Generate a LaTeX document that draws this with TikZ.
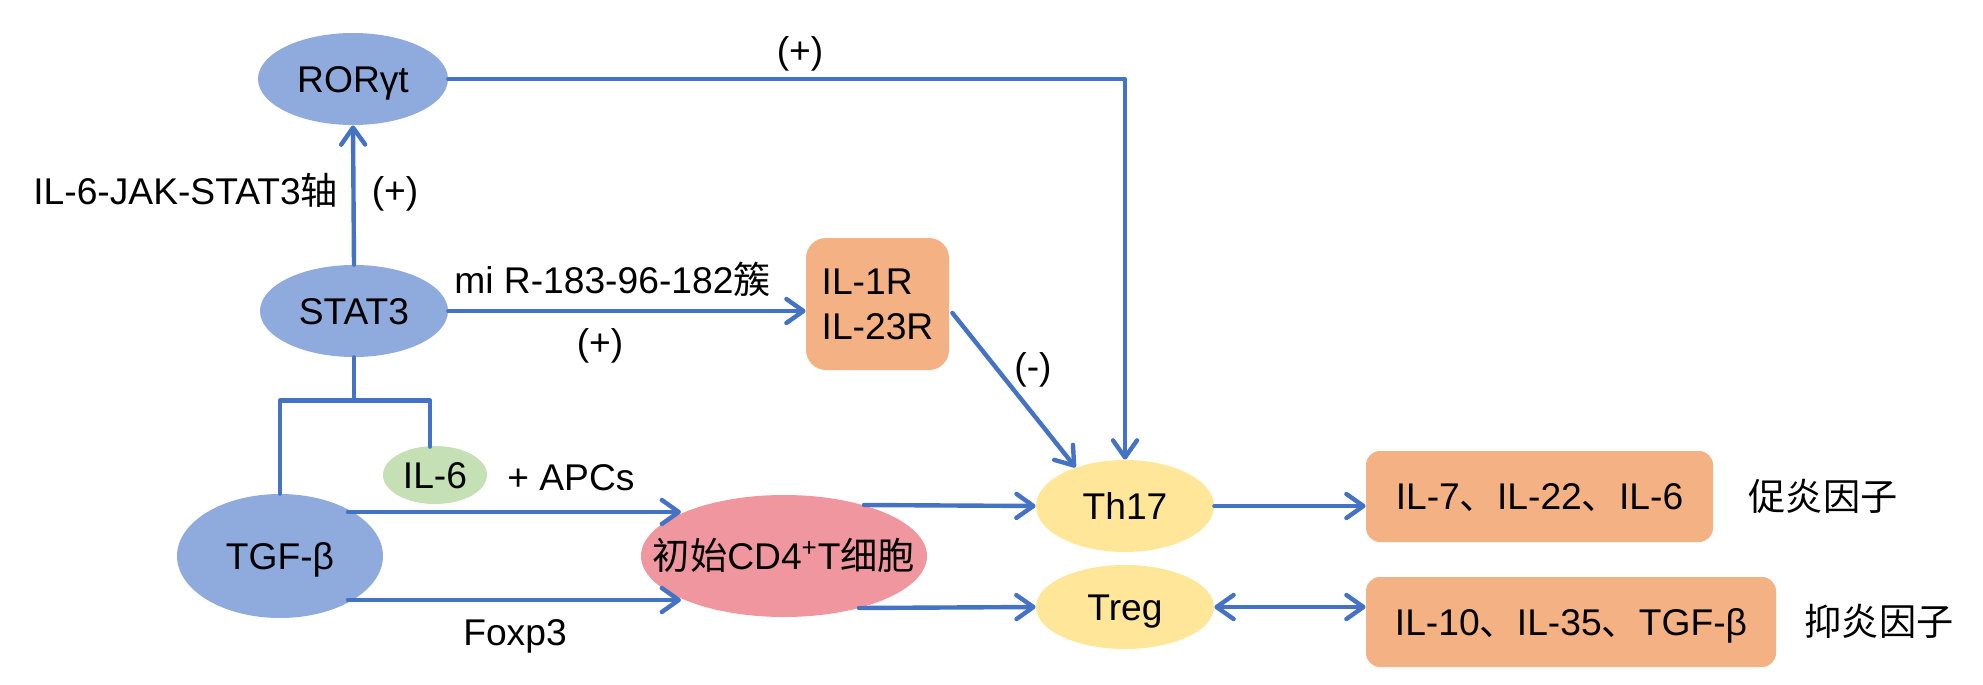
\documentclass[tikz,border=0pt]{standalone}
\usepackage{fontspec}
\setmainfont{Liberation Sans}
\newfontfamily\cjk{Noto Sans CJK SC}
\usetikzlibrary{shapes.geometric,arrows.meta,calc}
\definecolor{lineblue}{RGB}{68,114,196}
\definecolor{ellblue}{RGB}{143,170,220}
\definecolor{ellgreen}{RGB}{197,224,180}
\definecolor{ellpink}{RGB}{240,150,158}
\definecolor{ellyellow}{RGB}{255,230,153}
\definecolor{boxorange}{RGB}{244,177,131}
\begin{document}
\begin{tikzpicture}[x=0.5pt,y=-0.5pt,
  font=\fontsize{18.6}{22.5}\selectfont,
  >={Straight Barb[length=8.5pt,width=12pt,round]},
  conn/.style={draw=lineblue,line width=2.2pt,line cap=round,line join=round},
  lbl/.style={inner sep=0pt,text height=13.3pt,text depth=0pt},
  ell/.style={ellipse,inner sep=0pt,text height=13.3pt,text depth=0pt},
  bell/.style={ell,fill=ellblue},
  gell/.style={ell,fill=ellgreen},
  pell/.style={ell,fill=ellpink},
  yell/.style={ell,fill=ellyellow},
  obox/.style={rectangle,fill=boxorange,inner sep=0pt},
]
\useasboundingbox (0,0) rectangle (1983,685);

% nodes
\node[bell,minimum width=95pt,minimum height=46pt] (ror) at (353,79) {RORγt};
\node[bell,minimum width=94pt,minimum height=46pt] (stat) at (354,311) {STAT3};
\node[bell,minimum width=103pt,minimum height=62pt] (tgf) at (280,556) {TGF-β};
\node[gell,minimum width=52pt,minimum height=29pt,inner xsep=-5pt] (il6) at (435,475) {IL-6};
\node[pell,minimum width=143pt,minimum height=61pt,inner xsep=-16pt] (cd4) at (784,556) {{\cjk 初始}CD4\textsuperscript{+}T{\cjk 细胞}};
\node[yell,minimum width=89pt,minimum height=46pt,inner xsep=-5pt] (th17) at (1125,506) {Th17};
\node[yell,minimum width=89pt,minimum height=42pt,inner xsep=-5pt] (treg) at (1125,607) {Treg};
\node[obox,minimum width=71.5pt,minimum height=66pt,rounded corners=10pt,align=left] (il1r) at (877.5,304) {IL-1R\\IL-23R};
\node[obox,text height=13.3pt,text depth=0pt,minimum width=173.5pt,minimum height=45.5pt,rounded corners=7pt] (o1) at (1539.5,496.5) {IL-7{\cjk 、}IL-22{\cjk 、}IL-6};
\node[obox,text height=13.3pt,text depth=0pt,minimum width=205pt,minimum height=45pt,rounded corners=7pt] (o2) at (1571,622) {IL-10{\cjk 、}IL-35{\cjk 、}TGF-β};

% labels
\node[lbl,anchor=west] (t1) at (33,191) {IL-6-JAK-STAT3{\cjk 轴}};
\node[lbl] (t2) at (395,190) {(+)};
\node[lbl,anchor=west] (t3) at (454,280) {mi R-183-96-182{\cjk 簇}};
\node[lbl] (t4) at (600,342) {(+)};
\node[lbl] (t5) at (800,50) {(+)};
\node[lbl] (t6) at (1033,366) {(-)};
\node[lbl,anchor=west] (t7) at (507,477) {+ APCs};
\node[lbl] (t8) at (515,632) {Foxp3};
\node[lbl] (t9) at (1823,497) {{\cjk 促炎因子}};
\node[lbl] (t10) at (1879,622) {{\cjk 抑炎因子}};

% connectors
\draw[conn,->] (stat.north) -- (ror.south);
\draw[conn,->] (ror.east) -| (th17.north);
\draw[conn,->] (stat.east) -- (stat.east -| il1r.west);
\draw[conn,->] ($(il1r.east)+(3,9)$) -- (th17.142);
\coordinate (br) at ($(stat.south)+(0,43)$);
\coordinate (il6in) at ($(il6.north)+(-5,1)$);
\draw[conn] (stat.south) -- (br);
\draw[conn] (tgf.north) |- (br -| il6in) -- (il6in);
\draw[conn,->] ($(tgf.center)+(68,-44)$) -- ($(cd4.center)+(-103,-44)$);
\draw[conn,->] ($(tgf.center)+(68,44)$) -- ($(cd4.center)+(-103,44)$);
\draw[conn,->] ($(cd4.center)+(80,-51)$) -- (th17.west);
\draw[conn,->] ($(cd4.center)+(75,52)$) -- (treg.west);
\draw[conn,->] (th17.east) -- (th17.east -| o1.west);
\draw[conn,<->] (treg.east) -- (treg.east -| o2.west);
\end{tikzpicture}
\end{document}
